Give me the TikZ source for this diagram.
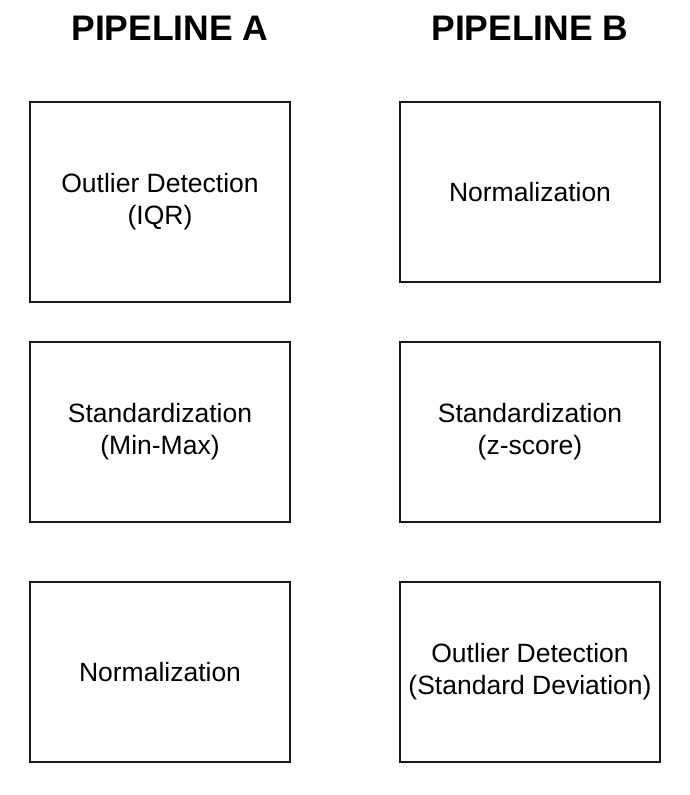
\documentclass[tikz,border=0pt]{standalone}
\usepackage{fontspec}
\setmainfont{Liberation Sans}
\begin{document}
\begin{tikzpicture}[x=1pt,y=-1pt,
  stagebox/.style={draw=black!90,line width=1.6pt,minimum width=260pt,inner sep=0pt,
    align=center,font=\fontsize{26.5}{32}\selectfont},
  pipetitle/.style={font=\fontsize{35.5}{40}\selectfont\bfseries}]
\useasboundingbox (0,0) rectangle (689,795);
% titles
\node[pipetitle] (titleA) at (170,28) {PIPELINE A};
\node[pipetitle] (titleB) at (530,28) {PIPELINE B};
% pipeline A, left column
\node[stagebox,minimum height=200pt] (a1) at (160,202) {Outlier Detection\\(IQR)};
\node[stagebox,minimum height=180pt] (a2) at (160,432) {Standardization\\(Min-Max)};
\node[stagebox,minimum height=180pt] (a3) at (160,672) {Normalization};
% pipeline B, right column
\node[stagebox,minimum height=180pt] (b1) at (530,192) {Normalization};
\node[stagebox,minimum height=180pt] (b2) at (530,432) {Standardization\\(z-score)};
\node[stagebox,minimum height=180pt] (b3) at (530,672) {Outlier Detection\\(Standard Deviation)};
\end{tikzpicture}
\end{document}
